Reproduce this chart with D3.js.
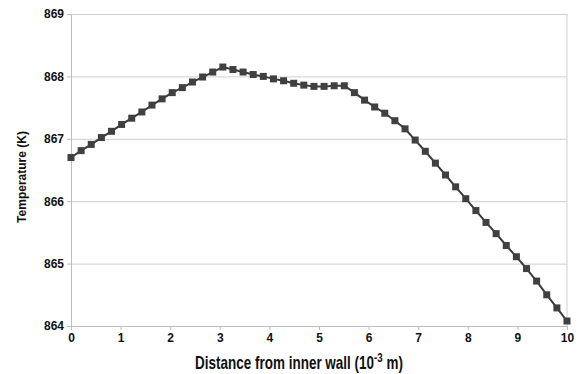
<!DOCTYPE html>
<html lang="en">
<head>
    <meta charset="UTF-8">
    <title>Temperature vs distance from inner wall</title>
    <script src="https://d3js.org/d3.v7.min.js"></script>
    <style>
        body {
            margin: 0;
            background: #fff;
        }

        .tick text {
            font-family: 'Liberation Sans', Arial, sans-serif;
            font-weight: bold;
            font-size: 12px;
            fill: #111;
        }

        .grid line {
            stroke: #cfcfcf;
        }

        .grid path {
            stroke: none;
        }

        .axis-title {
            font-weight: bold;
            fill: #111;
        }
    </style>
</head>
<body>
    <div id="chart"></div>
    <script>
        // Distance from inner wall (10^-3 m): 50 evenly spaced samples from 0 to 10
        const xTicks = [0, 1, 2, 3, 4, 5, 6, 7, 8, 9, 10];
        const yTicks = [864, 865, 866, 867, 868, 869];

        const temperature = [
            866.70, 866.81, 866.91, 867.02, 867.12, 867.23, 867.33, 867.43, 867.54, 867.64,
            867.74, 867.82, 867.91, 867.99, 868.07, 868.15, 868.11, 868.07, 868.03, 868.00,
            867.96, 867.93, 867.89, 867.86, 867.84, 867.84, 867.85, 867.85, 867.74, 867.62,
            867.51, 867.41, 867.29, 867.16, 866.98, 866.80, 866.61, 866.42, 866.23, 866.04,
            865.85, 865.66, 865.48, 865.29, 865.11, 864.92, 864.72, 864.50, 864.29, 864.08
        ];
        const distance = temperature.map((t, i) => i * 10 / (temperature.length - 1));

        const data = distance.map((d, i) => ({ x: d, y: temperature[i] }));

        const margin = { top: 14, right: 12, bottom: 48, left: 71 };
        const totalW = 579, totalH = 374;
        const width = totalW - margin.left - margin.right;
        const height = totalH - margin.top - margin.bottom;

        const svg = d3.select("#chart")
            .append("svg")
            .attr("width", totalW)
            .attr("height", totalH);

        const g = svg.append("g")
            .attr("transform", `translate(${margin.left},${margin.top})`);

        const x = d3.scaleLinear().domain([0, 10]).range([0, width]);
        const y = d3.scaleLinear().domain([864, 869]).range([height, 0]);

        // horizontal gridlines
        g.append("g")
            .attr("class", "grid")
            .call(d3.axisLeft(y).tickValues(yTicks).tickSize(-width).tickFormat(""));

        // right border of the plot
        g.append("line")
            .attr("x1", width).attr("x2", width)
            .attr("y1", 0).attr("y2", height)
            .attr("stroke", "#cfcfcf");

        // y axis
        const yAxis = g.append("g")
            .call(d3.axisLeft(y).tickValues(yTicks).tickSize(4).tickPadding(3).tickFormat(d3.format("d")));
        yAxis.select(".domain").attr("stroke", "#bdbdbd");
        yAxis.selectAll(".tick line").attr("stroke", "#bdbdbd");

        // x axis
        const xAxis = g.append("g")
            .attr("transform", `translate(0,${height})`)
            .call(d3.axisBottom(x).tickValues(xTicks).tickSize(4).tickPadding(3).tickFormat(d3.format("d")));
        xAxis.select(".domain").attr("stroke", "#bdbdbd");
        xAxis.selectAll(".tick line").attr("stroke", "#bdbdbd");

        // line
        const line = d3.line()
            .x(d => x(d.x))
            .y(d => y(d.y));

        g.append("path")
            .datum(data)
            .attr("fill", "none")
            .attr("stroke", "#3a3a3a")
            .attr("stroke-width", 2)
            .attr("d", line);

        // square markers
        const s = 7;
        g.selectAll(".pt")
            .data(data)
            .enter()
            .append("rect")
            .attr("class", "pt")
            .attr("x", d => x(d.x) - s / 2)
            .attr("y", d => y(d.y) - s / 2)
            .attr("width", s)
            .attr("height", s)
            .attr("fill", "#404040");

        // x axis title, squeezed horizontally to mimic a condensed face
        const xtG = svg.append("g");
        const xt = xtG.append("text")
            .attr("class", "axis-title")
            .attr("text-anchor", "middle")
            .style("font-family", "'Liberation Sans', Arial, sans-serif")
            .style("font-size", "18px");
        xt.append("tspan").text("Distance from inner wall (10");
        xt.append("tspan").attr("dy", -7).style("font-size", "13px").text("-3");
        xt.append("tspan").attr("dy", 7).text(" m)");
        const bw = xt.node().getBBox().width;
        xtG.attr("transform", `translate(299,369) scale(${208 / bw},1)`);

        svg.append("text")
            .attr("class", "axis-title")
            .attr("transform", `translate(26,${margin.top + height / 2 + 7}) rotate(-90)`)
            .attr("text-anchor", "middle")
            .style("font-family", "'Liberation Sans', Arial, sans-serif")
            .style("font-size", "12px")
            .text("Temperature (K)");
    </script>
</body>
</html>
